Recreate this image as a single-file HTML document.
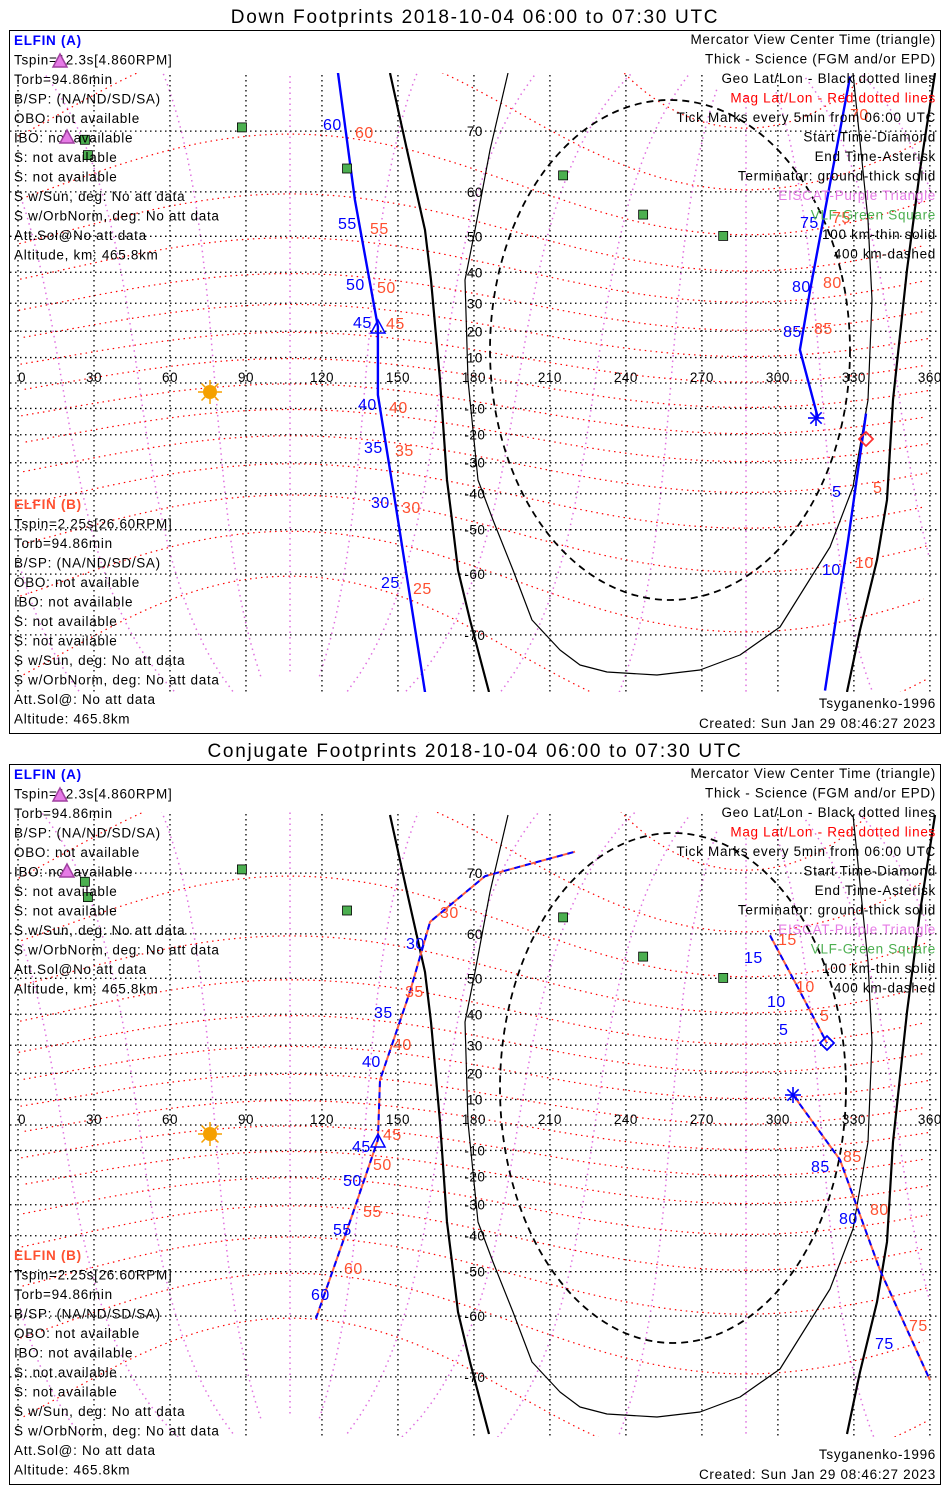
<!DOCTYPE html>
<html><head><meta charset="utf-8">
<style>
html,body{margin:0;padding:0;background:#fff;width:950px;height:1500px;overflow:hidden;}
svg{display:block;font-family:"Liberation Sans",sans-serif;}
</style></head>
<body>
<svg id="chart" width="950" height="1500" viewBox="0 0 950 1500" xmlns="http://www.w3.org/2000/svg">
<rect x="0" y="0" width="950" height="1500" fill="#fff"/>
<defs>
<clipPath id="clipTop"><rect x="10" y="73" width="930" height="619"/></clipPath>
<clipPath id="clipBot"><rect x="10" y="812" width="930" height="625"/></clipPath>
</defs>
<text x="475" y="23" text-anchor="middle" font-size="19" letter-spacing="1.7">Down Footprints 2018-10-04 06:00 to 07:30 UTC</text>
<text x="475" y="757" text-anchor="middle" font-size="19" letter-spacing="1.7">Conjugate Footprints 2018-10-04 06:00 to 07:30 UTC</text>
<g id="topPanel"></g>
<g id="botPanel"></g>
</svg>
<script>
// ---- data ----
const lonTicks = [0,30,60,90,120,150,180,210,240,270,300,330,360];
const latTicks = [70,60,50,40,30,20,10,-10,-20,-30,-40,-50,-60,-70];
// Down footprints (top panel)
const downA1Lon = [126.3,133.0,142.1,142.1,148.8,160.7];
const downA1Lat = [76.6,58.4,21.7,-4.7,-42.0,-76.5];
const downA2Lon = [328.5,312.7,308.7,315.8];
const downA2Lat = [76.2,34.4,13.0,-13.6];
const downBLon = [334.8,327.7,318.6];
const downBLat = [-12.0,-52.6,-76.3];
// Conjugate footprints (bottom panel)
const conjLLon = [117.6,131.9,142.1,142.9,154.8,162.7,184.4,219.9];
const conjLLat = [-60.5,-33.6,-5.8,17.5,46.6,62.3,69.6,72.7];
const conjR1Lon = [296.9,308.7,319.4];
const conjR1Lat = [59.7,46.6,30.7];
const conjR2Lon = [306.0,324.5,340.3,360.0];
const conjR2Lat = [11.8,-13.6,-49.6,-70.4];
// stations
const vlfLon = [88.4,26.4,27.6,129.9,215.2,246.8,278.4];
const vlfLat = [70.5,68.8,66.5,64.3,63.1,55.2,50.1];

const NS='http://www.w3.org/2000/svg';
const R = 2.533*180/Math.PI;
function xOf(lon){return 18+lon*2.533;}
function yOf(lat,eq){const r=lat*Math.PI/180;return eq-R*Math.log(Math.tan(Math.PI/4+r/2));}
function mk(tag,attrs,parent){const e=document.createElementNS(NS,tag);for(const k in attrs)e.setAttribute(k,attrs[k]);parent.appendChild(e);return e;}

const PLAT=80.4*Math.PI/180, PLON=287.4*Math.PI/180, TH=Math.PI/2-PLAT;
function magToGeo(mlat,mlon){
  const a=mlat*Math.PI/180,b=mlon*Math.PI/180;
  let x=Math.cos(a)*Math.cos(b),y=Math.cos(a)*Math.sin(b),z=Math.sin(a);
  let x1=x*Math.cos(TH)+z*Math.sin(TH), z1=-x*Math.sin(TH)+z*Math.cos(TH);
  let x2=x1*Math.cos(PLON)-y*Math.sin(PLON), y2=x1*Math.sin(PLON)+y*Math.cos(PLON);
  let lat=Math.asin(Math.max(-1,Math.min(1,z1)))*180/Math.PI;
  let lon=Math.atan2(y2,x2)*180/Math.PI; lon=((lon%360)+360)%360;
  return [lon,lat];
}
function geoPath(pts,eq){
  let d='',prev=null;
  for(const p of pts){
    if(Math.abs(p[1])>85){prev=null;continue;}
    const X=xOf(p[0]),Y=yOf(p[1],eq);
    if(prev===null||Math.abs(p[0]-prev)>180) d+='M'+X.toFixed(1)+','+Y.toFixed(1);
    else d+='L'+X.toFixed(1)+','+Y.toFixed(1);
    prev=p[0];
  }
  return d;
}
function trackPath(lons,lats,eq){
  return lons.map((l,i)=>(i?'L':'M')+xOf(l).toFixed(1)+','+yOf(lats[i],eq).toFixed(1)).join('');
}
function polyStr(pts,o){return pts.map(p=>p[0]+','+(p[1]+o)).join(' ');}
const thickL=[[390,73],[407,150],[425,230],[431,280],[440,380],[447,480],[452,520],[458,570],[470,620],[489,692]];
const thinLoop=[[508,73],[490,150],[475,230],[465,280],[468,380],[478,480],[493,520],[513,570],[532,620],[560,650],[580,665],[607,672],[657,675],[700,670],[740,655],[780,627],[830,547],[853,487],[868,400],[872,300],[868,220],[853,73]];
const thickR=[[935,73],[920,170],[907,270],[893,400],[887,500],[877,560],[860,630],[847,692]];

function buildPanel(g,top,bottom,eq,clip,opts){
  const frame=mk('rect',{x:9.5,y:top+0.5,width:931,height:bottom-top,fill:'none',stroke:'#000','stroke-width':1},g);
  
  
  const m=mk('g',{'clip-path':'url(#'+clip+')'},g);
  
  
  for(let ml=0;ml<360;ml+=30){
    const pts=[];for(let a=-84;a<=84;a+=2)pts.push(magToGeo(a,ml));
    const p=mk('path',{d:geoPath(pts,eq),fill:'none',stroke:'#e070e0','stroke-width':1.5,'stroke-dasharray':'1.5,4'},m);
    
    
  }
  for(let a=-70;a<=80;a+=10){
    const pts=[];for(let ml=0;ml<=360;ml+=3)pts.push(magToGeo(a,ml));
    const p=mk('path',{d:geoPath(pts,eq),fill:'none',stroke:'#f00','stroke-width':1.2,'stroke-dasharray':'1.5,4'},m);
    
    
  }
  lonTicks.forEach(l=>{
    const p=mk('line',{x1:xOf(l),x2:xOf(l),y1:top,y2:bottom,stroke:'#000','stroke-width':1.3,'stroke-dasharray':'1.5,3.5'},m);
    
    
  });
  latTicks.concat([0]).forEach(l=>{
    const p=mk('line',{x1:10,x2:940,y1:yOf(l,eq),y2:yOf(l,eq),stroke:'#000','stroke-width':1.3,'stroke-dasharray':'1.5,3.5'},m);
    
    
  });
  const o=eq-383;
  [[thickL,2.2],[thinLoop,1.2],[thickR,2.2]].forEach(t=>{
    const p=mk('polyline',{points:polyStr(t[0],o),fill:'none',stroke:'#000','stroke-width':t[1],'stroke-linejoin':'round'},m);
    
    
  });
  const el=mk('ellipse',{cx:opts.ecx,cy:opts.ecy,rx:opts.erx,ry:opts.ery,fill:'none',stroke:'#000','stroke-width':1.8,'stroke-dasharray':'7,5'},m);
  
  
  lonTicks.forEach(l=>{
    const t=mk('text',{x:xOf(l),y:eq-1,'text-anchor':l===0?'start':'middle','font-size':13.5,'letter-spacing':0.5},m);
    t.textContent=l;
    
    
  });
  latTicks.forEach(l=>{
    const t=mk('text',{x:xOf(180)+1,y:yOf(l,eq)+5,'text-anchor':'middle','font-size':13.5,'letter-spacing':0.5},m);
    t.textContent=l;
    
    
  });
  vlfLon.forEach((l,i)=>{
    const s=mk('rect',{x:xOf(l)-4.5,y:yOf(vlfLat[i],eq)-4.5,width:9,height:9,fill:'#4caf50',stroke:'#000','stroke-width':0.8},g);
    
    
  });
  const sx=210, sy=eq+9;
  const sun=mk('g',{},m);
  
  
  for(let k=0;k<8;k++){const a=k*Math.PI/4;mk('line',{x1:sx+Math.cos(a)*7,y1:sy+Math.sin(a)*7,x2:sx+Math.cos(a)*12,y2:sy+Math.sin(a)*12,stroke:'#f5a000','stroke-width':1.5},sun);}
  mk('circle',{cx:sx,cy:sy,r:7,fill:'#f5a000'},sun);
  return m;
}
function drawTrack(m,lons,lats,eq,dashed,name){
  const d=trackPath(lons,lats,eq);
  if(dashed){
    const a=mk('path',{d:d,fill:'none',stroke:'#ff6040','stroke-width':2},m);
    
    
    const b=mk('path',{d:d,fill:'none',stroke:'#0000ff','stroke-width':2,'stroke-dasharray':'6,5'},m);
    
    
  }else{
    const b=mk('path',{d:d,fill:'none',stroke:'#0000ff','stroke-width':2.4},m);
    
    
  }
}
function label(m,x,y,txt,color,name){
  const t=mk('text',{x:x,y:y,fill:color,'font-size':16,'letter-spacing':0.5},m);
  t.textContent=txt;
  
  
}
function triangle(m,x,y,color,fill,name){
  const p=mk('polygon',{points:(x)+','+(y-8)+' '+(x-7)+','+(y+5)+' '+(x+7)+','+(y+5),fill:fill,stroke:color,'stroke-width':1.5},m);
  
  
}
function asterisk(m,x,y,name){
  const g=mk('g',{},m);
  
  
  for(let k=0;k<4;k++){const a=k*Math.PI/4;mk('line',{x1:x-Math.cos(a)*8,y1:y-Math.sin(a)*8,x2:x+Math.cos(a)*8,y2:y+Math.sin(a)*8,stroke:'#0000ff','stroke-width':1.6},g);}
}
function diamond(m,x,y,color,name){
  const p=mk('polygon',{points:x+','+(y-7)+' '+(x+7)+','+y+' '+x+','+(y+7)+' '+(x-7)+','+y,fill:'none',stroke:color,'stroke-width':1.8},m);
  
  
}
function infoText(g,top,bottom){
  const left=[['ELFIN (A)','#0000ff',true],['Tspin=12.3s[4.860RPM]'],['Torb=94.86min'],['B/SP: (NA/ND/SD/SA)'],['OBO: not available'],['IBO: not available'],['S: not available'],['S: not available'],['S w/Sun, deg: No att data'],['S w/OrbNorm, deg: No att data'],['Att.Sol@No att data'],['Altitude, km: 465.8km']];
  const leftB=[['ELFIN (B)','#ff5030',true],['Tspin=2.25s[26.60RPM]'],['Torb=94.86min'],['B/SP: (NA/ND/SD/SA)'],['OBO: not available'],['IBO: not available'],['S: not available'],['S: not available'],['S w/Sun, deg: No att data'],['S w/OrbNorm, deg: No att data'],['Att.Sol@: No att data'],['Altitude: 465.8km']];
  const right=[['Mercator View Center Time (triangle)','#000'],['Thick - Science (FGM and/or EPD)','#000'],['Geo Lat/Lon - Black dotted lines','#000'],['Mag Lat/Lon - Red dotted lines','#f00'],['Tick Marks every 5min from 06:00 UTC','#000'],['Start Time-Diamond','#000'],['End Time-Asterisk','#000'],['Terminator: ground-thick solid','#000'],['EISCAT-Purple Triangle','#e67ae6'],['VLF-Green Square','#4caf50'],['100 km-thin solid','#000'],['400 km-dashed','#000']];
  left.forEach((r,i)=>{const t=mk('text',{x:14,y:top+15+i*19.5,fill:r[1]||'#000','font-size':13.5,'font-weight':r[2]?'bold':'normal','letter-spacing':0.7},g);t.textContent=r[0];});
  const bTop=bottom-224;
  leftB.forEach((r,i)=>{const t=mk('text',{x:14,y:bTop+i*19.5,fill:r[1]||'#000','font-size':13.5,'font-weight':r[2]?'bold':'normal','letter-spacing':0.7},g);t.textContent=r[0];});
  right.forEach((r,i)=>{const t=mk('text',{x:936,y:top+14+i*19.5,fill:r[1],'font-size':13.5,'text-anchor':'end','letter-spacing':0.7},g);t.textContent=r[0];});
  const t1=mk('text',{x:936,y:bottom-25,'font-size':13.5,'text-anchor':'end','letter-spacing':0.7},g);t1.textContent='Tsyganenko-1996';
  
  
  const t2=mk('text',{x:936,y:bottom-5,'font-size':13.5,'text-anchor':'end','letter-spacing':0.7},g);t2.textContent='Created: Sun Jan 29 08:46:27 2023';
  
  
  triangle(g,60,top+32,'#a040a0','#e67ae6','eiscat-triangle');
  triangle(g,67,top+108,'#a040a0','#e67ae6','eiscat-triangle');
}

const gt=document.getElementById('topPanel');
const eqT=383;
const mt=buildPanel(gt,30,733,eqT,'clipTop',{ecx:670,ecy:350,erx:180,ery:250});
drawTrack(mt,downA1Lon,downA1Lat,eqT,false,'elfin-a-track-left');
drawTrack(mt,downA2Lon,downA2Lat,eqT,false,'elfin-a-track-right');
drawTrack(mt,downBLon,downBLat,eqT,false,'elfin-b-track');
[['60',323,130],['55',338,229],['50',346,290],['45',353,328],['40',358,410],['35',364,453],['30',371,508],['25',381,588],['75',800,228],['80',792,292],['85',783,337],['5',832,497],['10',822,575]].forEach(a=>label(mt,a[1],a[2],a[0],'#0000ff','tick-label-blue'));
[['60',355,138],['55',370,234],['50',377,293],['45',386,329],['40',389,413],['35',395,456],['30',402,513],['25',413,594],['70',850,120],['75',832,223],['80',823,288],['85',814,334],['5',873,493],['10',855,568]].forEach(a=>label(mt,a[1],a[2],a[0],'#ff5030','tick-label-red'));
triangle(mt,378,328,'#0000ff','none','center-time-triangle');
asterisk(mt,816,418,'end-time-asterisk');
diamond(mt,866,439,'#ff3030','start-time-diamond');
infoText(gt,30,733);

const gb=document.getElementById('botPanel');
const eqB=1125;
const mb=buildPanel(gb,764,1484,eqB,'clipBot',{ecx:673,ecy:1088,erx:173,ery:255});
drawTrack(mb,conjLLon,conjLLat,eqB,true,'conjugate-track-left');
drawTrack(mb,conjR1Lon,conjR1Lat,eqB,true,'conjugate-track-right-upper');
drawTrack(mb,conjR2Lon,conjR2Lat,eqB,true,'conjugate-track-right-lower');
[['30',406,949],['35',374,1018],['40',362,1067],['45',352,1152],['50',343,1186],['55',333,1235],['60',311,1300],['15',744,963],['10',767,1007],['5',779,1035],['85',811,1172],['80',839,1224],['75',875,1349]].forEach(a=>label(mb,a[1],a[2],a[0],'#0000ff','tick-label-blue'));
[['30',440,918],['35',405,997],['40',393,1050],['45',383,1140],['50',373,1170],['55',363,1217],['60',344,1274],['15',778,945],['10',796,992],['5',820,1021],['85',843,1162],['80',870,1215],['75',909,1331]].forEach(a=>label(mb,a[1],a[2],a[0],'#ff5030','tick-label-red'));
triangle(mb,378,1142,'#0000ff','none','center-time-triangle');
asterisk(mb,793,1095,'end-time-asterisk');
diamond(mb,827,1043,'#0000ff','start-time-diamond');
infoText(gb,764,1484);
</script>
</body></html>
